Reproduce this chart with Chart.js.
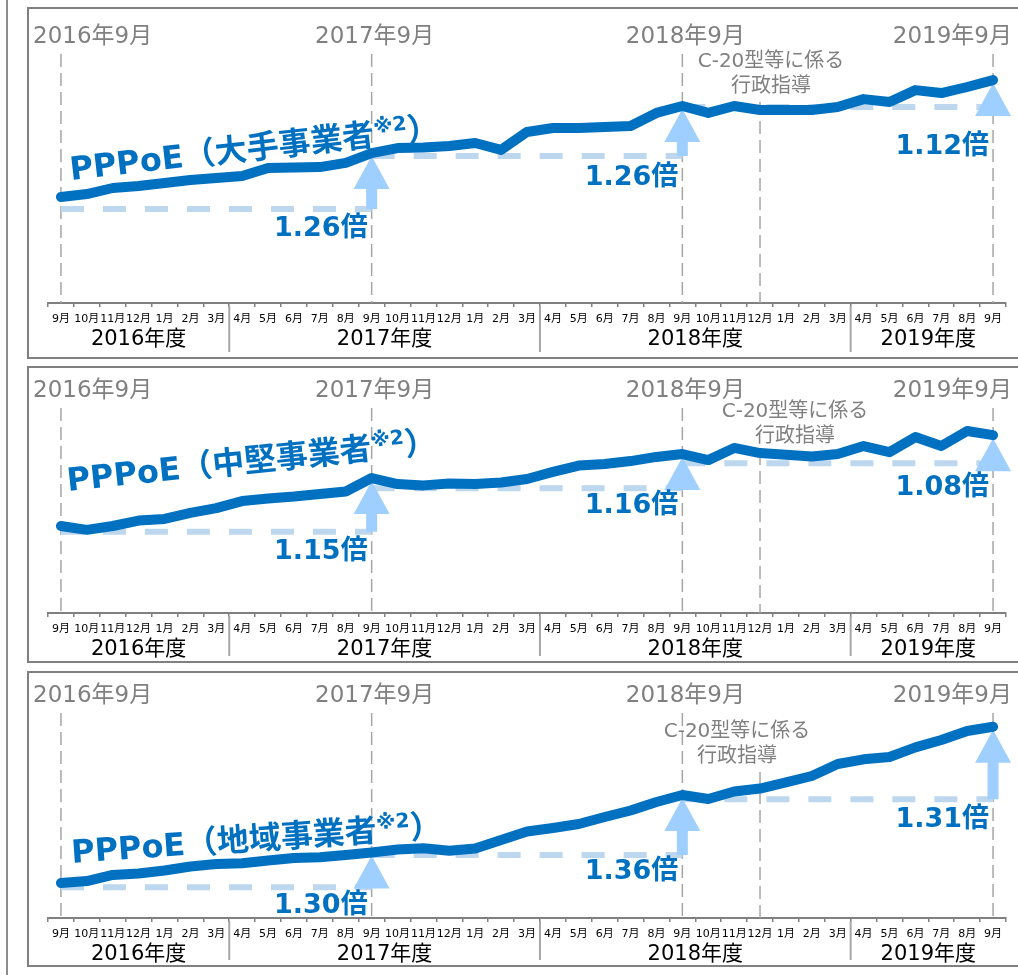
<!DOCTYPE html>
<html>
<head>
<meta charset="utf-8">
<script src="https://cdn.jsdelivr.net/npm/chart.js@4.4.1/dist/chart.umd.min.js"></script>
<style>
  body { margin: 0; background: #fff; width: 1018px; height: 975px; overflow: hidden; position: relative; }
  .edge { position: absolute; left: 6px; top: 0; width: 2px; height: 975px; background: #8c8c8c; }
  .panel { position: absolute; left: 27px; width: 1010px; border: 2px solid #808080; box-sizing: border-box; }
  canvas { position: absolute; left: 29px; }
</style>
</head>
<body>
<div class="edge"></div>
<div class="panel" style="top:7px;height:352px"></div>
<div class="panel" style="top:366px;height:297px"></div>
<div class="panel" style="top:671px;height:296px"></div>
<canvas id="c1" width="989" height="348" style="top:9px"></canvas>
<canvas id="c2" width="989" height="293" style="top:368px"></canvas>
<canvas id="c3" width="989" height="292" style="top:673px"></canvas>
<script>
// Sep 2016 .. Sep 2019, monthly
const monthLabels = ['9月', '10月', '11月', '12月', '1月', '2月', '3月',
  '4月', '5月', '6月', '7月', '8月', '9月', '10月', '11月', '12月', '1月', '2月', '3月',
  '4月', '5月', '6月', '7月', '8月', '9月', '10月', '11月', '12月', '1月', '2月', '3月',
  '4月', '5月', '6月', '7月', '8月', '9月'];
const fiscalYears = ['2016年度', '2017年度', '2018年度', '2019年度'];
const fiscalFirst = [0, 7, 19, 31];
const fiscalLast = [6, 18, 30, 36];
const septIdx = [0, 12, 24, 36];
const septLabels = ['2016年9月', '2017年9月', '2018年9月', '2019年9月'];
const guidanceIdx = 27;
const guidanceText = ['C-20型等に係る', '行政指導'];

// traffic index, Sep 2016 = 100
const largeIsp = [100.0, 101.7, 105.2, 106.4, 108.1, 109.8, 111.0, 112.1, 116.8, 117.1, 117.3, 119.7,
  125.4, 128.3, 128.6, 129.5, 131.2, 127.2, 137.6, 139.9, 139.9, 140.5, 141.0, 148.6,
  152.6, 148.6, 152.6, 150.3, 150.3, 150.3, 152.0, 156.6, 154.9, 161.8, 160.1, 163.6, 167.6];
const midIsp = [100, 98.8, 100, 101.7, 102.2, 104.1, 105.6, 107.8, 108.6, 109.2, 110, 110.8,
  115, 113.1, 112.7, 113.3, 113.1, 113.6, 114.7, 116.9, 118.9, 119.4, 120.3, 121.6,
  122.5, 120.6, 124.4, 122.8, 122.3, 121.7, 122.5, 125, 123.1, 127.8, 125, 129.7, 128.4];
const localIsp = [100, 101.9, 107.8, 109.2, 112.1, 116.0, 118.4, 119.1, 121.8, 124.3, 125.0, 127.2,
  129.6, 132.5, 133.7, 131.4, 133.5, 141.7, 150.0, 153.4, 157.3, 164.1, 170.4, 178.6,
  185.4, 181.6, 188.8, 191.7, 197.6, 203.9, 215.5, 220.1, 222.3, 231.7, 238.8, 247.6, 251.7];

// previous-September reference levels and year-on-year ratios
const largeGuide = [93.1, 123.7, 152.0];
const midGuide = [98.2, 111.8, 119.6];
const localGuide = [95.8, 127.2, 181.3];
const largeRatio = ['1.26倍', '1.26倍', '1.12倍'];
const midRatio = ['1.15倍', '1.16倍', '1.08倍'];
const localRatio = ['1.30倍', '1.36倍', '1.31倍'];

const titles = ['PPPoE（大手事業者', 'PPPoE（中堅事業者', 'PPPoE（地域事業者'];

const FONT = '"DejaVu Sans", "Noto Sans CJK JP", sans-serif';
const BLUE = '#0070c0';
Chart.defaults.font.family = FONT;

const panels = [
  { id: 'c1', values: largeIsp, guides: largeGuide, ratios: largeRatio, title: titles[0],
    yMin: 38.7, yMax: 208.7, axisH: 54, labelY: 28, noticeY: 53, noticeDx: 11,
    ratioDy: [20, 22, 40], titleAt: [42, 171], titleAngle: -6.5 },
  { id: 'c2', values: midIsp, guides: midGuide, ratios: midRatio, title: titles[1],
    yMin: 72.8, yMax: 149.4, axisH: 48, labelY: 23, noticeY: 44, noticeDx: 35,
    ratioDy: [20, 18, 25], titleAt: [39, 123], titleAngle: -6 },
  { id: 'c3', values: localIsp, guides: localGuide, ratios: localRatio, title: titles[2],
    yMin: 66.0, yMax: 303.9, axisH: 47, labelY: 23, noticeY: 59, noticeDx: -23,
    ratioDy: [19, 17, 21], titleAt: [43, 190], titleAngle: -4.1 },
];

function seg(ctx, x1, y1, x2, y2) {
  ctx.beginPath();
  ctx.moveTo(x1, y1);
  ctx.lineTo(x2, y2);
  ctx.stroke();
}

function arrow(ctx, x, tip, base) {
  const hw = 18, hh = 33, sw = 5.5;
  ctx.beginPath();
  ctx.moveTo(x, tip);
  ctx.lineTo(x + hw, tip + hh);
  ctx.lineTo(x + sw, tip + hh);
  if (base > tip + hh) {
    ctx.lineTo(x + sw, base);
    ctx.lineTo(x - sw, base);
  }
  ctx.lineTo(x - sw, tip + hh);
  ctx.lineTo(x - hw, tip + hh);
  ctx.closePath();
  ctx.fill();
}

function deco(p) {
  return {
    id: 'deco',
    beforeDatasetsDraw(chart) {
      const { ctx, chartArea } = chart;
      const x = chart.scales.x, y = chart.scales.y;
      ctx.save();

      // september markers and the guidance marker
      ctx.strokeStyle = '#a6a6a6';
      ctx.lineWidth = 1.5;
      ctx.setLineDash([13, 6]);
      septIdx.forEach(i => {
        const px = x.getPixelForValue(i);
        seg(ctx, px, p.labelY + 17, px, chartArea.bottom);
      });
      const gx = x.getPixelForValue(guidanceIdx);
      seg(ctx, gx, p.noticeY + 40, gx, chartArea.bottom);

      // dashed reference levels
      ctx.strokeStyle = '#bdd7ee';
      ctx.lineWidth = 6;
      ctx.setLineDash([23, 19]);
      p.guides.forEach((g, k) => {
        const gy = y.getPixelForValue(g);
        seg(ctx, x.getPixelForValue(septIdx[k]), gy, x.getPixelForValue(septIdx[k + 1]), gy);
      });
      ctx.setLineDash([]);

      // growth arrows
      ctx.fillStyle = '#9fcfff';
      p.guides.forEach((g, k) => {
        const i = septIdx[k + 1];
        arrow(ctx, x.getPixelForValue(i), y.getPixelForValue(p.values[i]) + 3, y.getPixelForValue(g));
      });

      // top labels
      ctx.fillStyle = '#808080';
      ctx.font = '23px ' + FONT;
      ctx.textBaseline = 'middle';
      ctx.textAlign = 'left';
      septLabels.forEach((t, k) => {
        const w = ctx.measureText(t).width;
        let left = x.getPixelForValue(septIdx[k]) + 3 - w / 2;
        left = Math.max(4, Math.min(983 - w, left));
        ctx.fillText(t, left, p.labelY);
      });
      ctx.font = '20px ' + FONT;
      ctx.textAlign = 'center';
      guidanceText.forEach((t, k) => ctx.fillText(t, gx + p.noticeDx, p.noticeY + k * 25));
      ctx.restore();
    },
    afterDraw(chart) {
      const { ctx, chartArea } = chart;
      const x = chart.scales.x, y = chart.scales.y;
      const step = x.getPixelForValue(1) - x.getPixelForValue(0);
      ctx.save();

      // fiscal year bands under the month ticks
      ctx.strokeStyle = '#a6a6a6';
      ctx.lineWidth = 2;
      fiscalFirst.slice(1).forEach(i => {
        const bx = x.getPixelForValue(i) - step / 2;
        seg(ctx, bx, chartArea.bottom + 3, bx, chart.height - 5);
      });
      ctx.fillStyle = '#000';
      ctx.font = '21px ' + FONT;
      ctx.textAlign = 'center';
      ctx.textBaseline = 'middle';
      fiscalYears.forEach((t, k) => {
        const cx = (x.getPixelForValue(fiscalFirst[k]) + x.getPixelForValue(fiscalLast[k])) / 2;
        ctx.fillText(t, cx, chartArea.bottom + 37);
      });

      // ratio labels
      ctx.fillStyle = BLUE;
      ctx.font = 'bold 27px ' + FONT;
      ctx.textAlign = 'right';
      p.ratios.forEach((t, k) => {
        const px = x.getPixelForValue(septIdx[k + 1]);
        ctx.fillText(t, px - 4, y.getPixelForValue(p.guides[k]) + p.ratioDy[k]);
      });

      // series title written along the line
      ctx.translate(p.titleAt[0], p.titleAt[1]);
      ctx.rotate(p.titleAngle * Math.PI / 180);
      ctx.textAlign = 'left';
      ctx.textBaseline = 'alphabetic';
      ctx.font = 'bold 32px ' + FONT;
      ctx.fillText(p.title, 0, 0);
      let w = ctx.measureText(p.title).width;
      ctx.font = 'bold 20px ' + FONT;
      ctx.fillText('※2', w, -12);
      w += ctx.measureText('※2').width;
      ctx.font = 'bold 32px ' + FONT;
      ctx.fillText('）', w, 0);
      ctx.restore();
    }
  };
}

panels.forEach(p => {
  new Chart(document.getElementById(p.id), {
    type: 'line',
    data: {
      labels: monthLabels,
      datasets: [{
        data: p.values,
        borderColor: BLUE,
        borderWidth: 10,
        borderCapStyle: 'round',
        borderJoinStyle: 'round',
        pointRadius: 0,
        tension: 0,
        fill: false,
      }],
    },
    options: {
      responsive: false,
      animation: false,
      events: [],
      layout: { padding: { left: 19, right: 12, top: 0, bottom: 0 } },
      plugins: { legend: { display: false }, tooltip: { enabled: false } },
      scales: {
        x: {
          offset: true,
          grid: { offset: true, drawOnChartArea: false, tickLength: 4, color: '#808080', lineWidth: 1.5 },
          border: { color: '#808080', width: 2 },
          ticks: { autoSkip: false, maxRotation: 0, padding: 6, color: '#000', font: { size: 11 } },
          afterFit: s => { s.height = p.axisH; },
        },
        y: { display: false, min: p.yMin, max: p.yMax },
      },
    },
    plugins: [deco(p)],
  });
});
</script>
</body>
</html>
